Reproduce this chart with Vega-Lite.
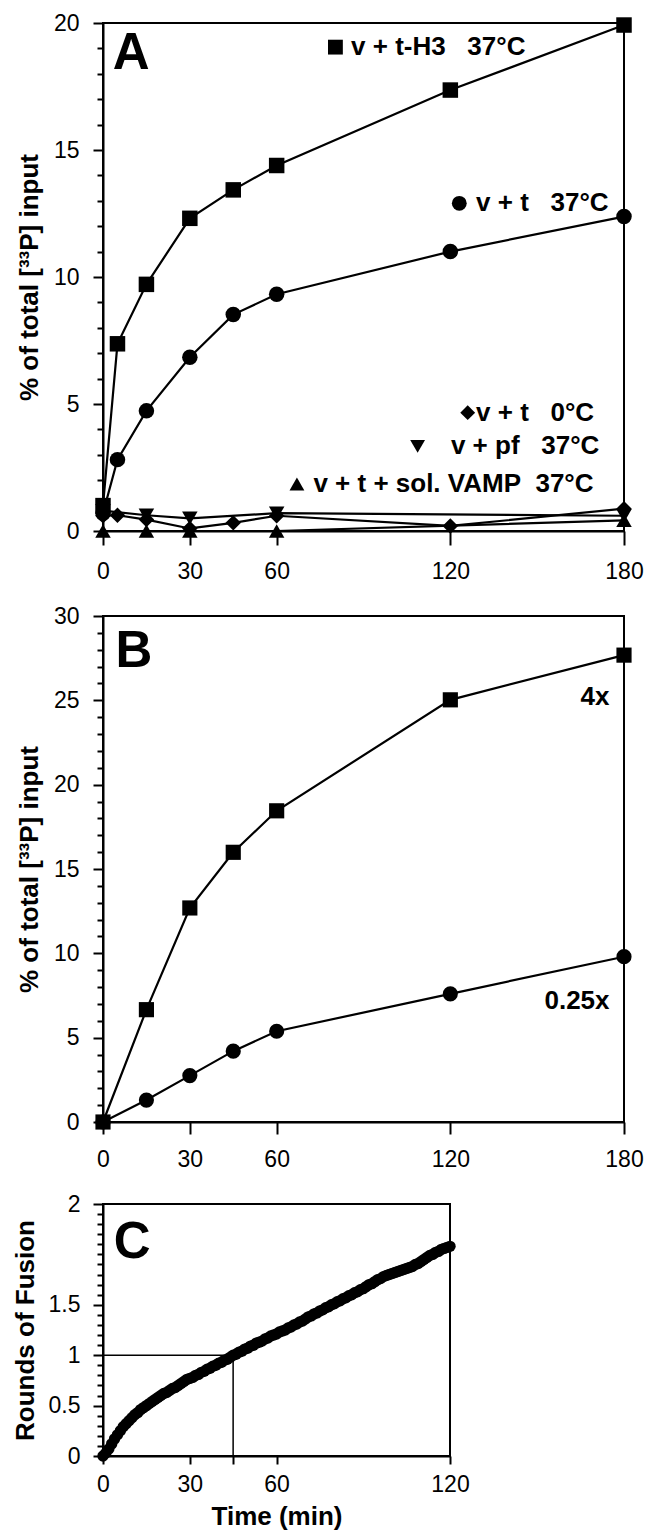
{
  "$schema": "https://vega.github.io/schema/vega-lite/v6.json",
  "padding": {"left": 11, "top": 11, "right": 5, "bottom": 0},
  "background": "white",
  "spacing": 20,
  "config": {
    "view": {"stroke": "black", "strokeWidth": 2},
    "axis": {
      "domainColor": "black", "domainWidth": 2, "tickColor": "black", "tickWidth": 2,
      "labelColor": "black", "labelFont": "Liberation Sans", "labelFontSize": 23,
      "titleFont": "Liberation Sans", "titleFontWeight": "bold", "titleFontSize": 26, "titleColor": "black",
      "grid": false, "labelOverlap": false, "labelFlush": false
    },
    "text": {"font": "Liberation Sans", "color": "black"}
  },
  "datasets": {
    "panelA": [
      {"series": "H3", "t": 0, "v": 1.0}, {"series": "H3", "t": 5, "v": 7.37}, {"series": "H3", "t": 15, "v": 9.71}, {"series": "H3", "t": 30, "v": 12.31}, {"series": "H3", "t": 45, "v": 13.43}, {"series": "H3", "t": 60, "v": 14.39}, {"series": "H3", "t": 120, "v": 17.36}, {"series": "H3", "t": 180, "v": 19.92},
      {"series": "vt37", "t": 0, "v": 0.7}, {"series": "vt37", "t": 5, "v": 2.81}, {"series": "vt37", "t": 15, "v": 4.73}, {"series": "vt37", "t": 30, "v": 6.84}, {"series": "vt37", "t": 45, "v": 8.52}, {"series": "vt37", "t": 60, "v": 9.32}, {"series": "vt37", "t": 120, "v": 11.0}, {"series": "vt37", "t": 180, "v": 12.38},
      {"series": "vt0", "t": 0, "v": 0.6}, {"series": "vt0", "t": 5, "v": 0.62}, {"series": "vt0", "t": 15, "v": 0.45}, {"series": "vt0", "t": 30, "v": 0.1}, {"series": "vt0", "t": 45, "v": 0.32}, {"series": "vt0", "t": 60, "v": 0.6}, {"series": "vt0", "t": 120, "v": 0.2}, {"series": "vt0", "t": 180, "v": 0.88},
      {"series": "pf", "t": 0, "v": 0.8}, {"series": "pf", "t": 15, "v": 0.62}, {"series": "pf", "t": 30, "v": 0.5}, {"series": "pf", "t": 60, "v": 0.7}, {"series": "pf", "t": 180, "v": 0.6},
      {"series": "VAMP", "t": 0, "v": 0}, {"series": "VAMP", "t": 15, "v": 0}, {"series": "VAMP", "t": 30, "v": 0}, {"series": "VAMP", "t": 60, "v": 0}, {"series": "VAMP", "t": 180, "v": 0.42}
    ],
    "keyA": [
      {"series": "H3", "t": 80.3, "v": 19.05, "tx": 85.7, "label": "v\u00a0+\u00a0t-H3\u00a0\u00a0\u00a037°C"},
      {"series": "vt37", "t": 123.1, "v": 12.9, "tx": 128.9, "label": "v\u00a0+\u00a0t\u00a0\u00a0\u00a037°C"},
      {"series": "vt0", "t": 126, "v": 4.66, "tx": 128.9, "label": "v\u00a0+\u00a0t\u00a0\u00a0\u00a00°C"},
      {"series": "pf", "t": 108.7, "v": 3.33, "tx": 120.2, "label": "v\u00a0+\u00a0pf\u00a0\u00a0\u00a037°C"},
      {"series": "VAMP", "t": 67, "v": 1.85, "tx": 72.7, "label": "v\u00a0+\u00a0t\u00a0+\u00a0sol.\u00a0VAMP\u00a0\u00a037°C"}
    ],
    "letterA": [{"t": 3.35, "v": 18.2, "label": "A"}],
    "panelB": [
      {"series": "4x", "t": 0, "v": 0}, {"series": "4x", "t": 15, "v": 6.66}, {"series": "4x", "t": 30, "v": 12.69}, {"series": "4x", "t": 45, "v": 15.99}, {"series": "4x", "t": 60, "v": 18.45}, {"series": "4x", "t": 120, "v": 25.03}, {"series": "4x", "t": 180, "v": 27.68},
      {"series": "0.25x", "t": 0, "v": 0}, {"series": "0.25x", "t": 15, "v": 1.3}, {"series": "0.25x", "t": 30, "v": 2.75}, {"series": "0.25x", "t": 45, "v": 4.2}, {"series": "0.25x", "t": 60, "v": 5.38}, {"series": "0.25x", "t": 120, "v": 7.6}, {"series": "0.25x", "t": 180, "v": 9.8}
    ],
    "notesB": [{"t": 175, "v": 25.2, "label": "4x"}, {"t": 175, "v": 7.15, "label": "0.25x"}],
    "letterB": [{"t": 4.3, "v": 27.0, "label": "B"}],
    "panelC": [
      {"t": 0, "v": 0}, {"t": 1, "v": 0.03}, {"t": 2, "v": 0.07}, {"t": 3, "v": 0.12}, {"t": 4, "v": 0.17}, {"t": 5, "v": 0.21}, {"t": 6, "v": 0.25}, {"t": 7, "v": 0.29}, {"t": 8, "v": 0.32}, {"t": 9, "v": 0.35}, {"t": 10, "v": 0.38},
      {"t": 11, "v": 0.41}, {"t": 12, "v": 0.43}, {"t": 13, "v": 0.46}, {"t": 14, "v": 0.48}, {"t": 15, "v": 0.5}, {"t": 16, "v": 0.52}, {"t": 17, "v": 0.54}, {"t": 18, "v": 0.56}, {"t": 19, "v": 0.58}, {"t": 20, "v": 0.6},
      {"t": 21, "v": 0.62}, {"t": 22, "v": 0.63}, {"t": 23, "v": 0.65}, {"t": 24, "v": 0.67}, {"t": 25, "v": 0.68}, {"t": 26, "v": 0.7}, {"t": 27, "v": 0.72}, {"t": 28, "v": 0.74}, {"t": 29, "v": 0.76}, {"t": 30, "v": 0.77},
      {"t": 31, "v": 0.78}, {"t": 32, "v": 0.8}, {"t": 33, "v": 0.81}, {"t": 34, "v": 0.83}, {"t": 35, "v": 0.84}, {"t": 36, "v": 0.86}, {"t": 37, "v": 0.87}, {"t": 38, "v": 0.89}, {"t": 39, "v": 0.9}, {"t": 40, "v": 0.92},
      {"t": 41, "v": 0.93}, {"t": 42, "v": 0.95}, {"t": 43, "v": 0.96}, {"t": 44, "v": 0.98}, {"t": 45, "v": 1.0}, {"t": 46, "v": 1.01}, {"t": 47, "v": 1.03}, {"t": 48, "v": 1.04}, {"t": 49, "v": 1.06}, {"t": 50, "v": 1.07},
      {"t": 51, "v": 1.09}, {"t": 52, "v": 1.1}, {"t": 53, "v": 1.12}, {"t": 54, "v": 1.13}, {"t": 55, "v": 1.14}, {"t": 56, "v": 1.16}, {"t": 57, "v": 1.17}, {"t": 58, "v": 1.19}, {"t": 59, "v": 1.2}, {"t": 60, "v": 1.21},
      {"t": 61, "v": 1.23}, {"t": 62, "v": 1.24}, {"t": 63, "v": 1.25}, {"t": 64, "v": 1.27}, {"t": 65, "v": 1.28}, {"t": 66, "v": 1.3}, {"t": 67, "v": 1.31}, {"t": 68, "v": 1.33}, {"t": 69, "v": 1.34}, {"t": 70, "v": 1.36},
      {"t": 71, "v": 1.38}, {"t": 72, "v": 1.39}, {"t": 73, "v": 1.41}, {"t": 74, "v": 1.42}, {"t": 75, "v": 1.44}, {"t": 76, "v": 1.45}, {"t": 77, "v": 1.47}, {"t": 78, "v": 1.48}, {"t": 79, "v": 1.5}, {"t": 80, "v": 1.51},
      {"t": 81, "v": 1.53}, {"t": 82, "v": 1.54}, {"t": 83, "v": 1.56}, {"t": 84, "v": 1.57}, {"t": 85, "v": 1.59}, {"t": 86, "v": 1.6}, {"t": 87, "v": 1.62}, {"t": 88, "v": 1.63}, {"t": 89, "v": 1.65}, {"t": 90, "v": 1.66},
      {"t": 91, "v": 1.68}, {"t": 92, "v": 1.7}, {"t": 93, "v": 1.71}, {"t": 94, "v": 1.73}, {"t": 95, "v": 1.75}, {"t": 96, "v": 1.76}, {"t": 97, "v": 1.78}, {"t": 98, "v": 1.79}, {"t": 99, "v": 1.8}, {"t": 100, "v": 1.81},
      {"t": 101, "v": 1.82}, {"t": 102, "v": 1.83}, {"t": 103, "v": 1.84}, {"t": 104, "v": 1.85}, {"t": 105, "v": 1.86}, {"t": 106, "v": 1.87}, {"t": 107, "v": 1.88}, {"t": 108, "v": 1.9}, {"t": 109, "v": 1.91}, {"t": 110, "v": 1.93},
      {"t": 111, "v": 1.95}, {"t": 112, "v": 1.97}, {"t": 113, "v": 1.99}, {"t": 114, "v": 2.0}, {"t": 115, "v": 2.02}, {"t": 116, "v": 2.03}, {"t": 117, "v": 2.05}, {"t": 118, "v": 2.06}, {"t": 119, "v": 2.07}, {"t": 120, "v": 2.08}
    ],
    "refC": [{"t": 0, "t2": 45, "v": 1, "v2": 1}, {"t": 45, "t2": 45, "v": 0, "v2": 1}],
    "letterC": [{"t": 3.7, "v": 1.96, "label": "C"}]
  },
  "vconcat": [
    {
      "width": 521, "height": 508,
      "encoding": {
        "x": {"field": "t", "type": "quantitative", "scale": {"domain": [0, 180], "nice": false, "zero": false},
              "axis": {"values": [0, 30, 60, 120, 180], "title": null, "tickSize": 14, "labelPadding": 15}},
        "y": {"field": "v", "type": "quantitative", "scale": {"domain": [0, 20], "nice": false},
              "axis": {"values": [0,1,2,3,4,5,6,7,8,9,10,11,12,13,14,15,16,17,18,19,20],
                       "tickSize": {"condition": {"test": "datum.value % 5 === 0", "value": 10}, "value": 6},
                       "labelExpr": "datum.value % 5 === 0 ? datum.label : ''",
                       "labelPadding": 14, "title": "% of total [³³P] input", "titlePadding": 11}}
      },
      "layer": [
        {
          "data": {"name": "panelA"},
          "mark": {"type": "line", "color": "black", "strokeWidth": 2.2},
          "encoding": {"detail": {"field": "series"}}
        },
        {
          "data": {"name": "panelA"},
          "mark": {"type": "point", "filled": true, "color": "black", "opacity": 1, "size": 240},
          "encoding": {
            "shape": {"field": "series", "type": "nominal", "scale": {"domain": ["H3", "vt37", "vt0", "pf", "VAMP"], "range": ["square", "circle", "diamond", "triangle-down", "triangle-up"]}, "legend": null}
          }
        },
        {
          "data": {"name": "keyA"},
          "mark": {"type": "point", "filled": true, "color": "black", "opacity": 1, "size": 220},
          "encoding": {
            "shape": {"field": "series", "type": "nominal", "scale": {"domain": ["H3", "vt37", "vt0", "pf", "VAMP"], "range": ["square", "circle", "diamond", "triangle-down", "triangle-up"]}, "legend": null}
          }
        },
        {
          "data": {"name": "keyA"},
          "mark": {"type": "text", "align": "left", "baseline": "middle", "fontSize": 26, "fontWeight": "bold"},
          "encoding": {
            "x": {"field": "tx", "type": "quantitative", "scale": {"domain": [0, 180], "nice": false, "zero": false}, "axis": {"values": [0, 30, 60, 120, 180], "title": null, "tickSize": 14, "labelPadding": 15}},
            "text": {"field": "label"}
          }
        },
        {
          "data": {"name": "letterA"},
          "mark": {"type": "text", "align": "left", "baseline": "alphabetic", "fontSize": 51, "fontWeight": "bold"},
          "encoding": {"text": {"field": "label"}}
        }
      ]
    },
    {
      "width": 521, "height": 506,
      "encoding": {
        "x": {"field": "t", "type": "quantitative", "scale": {"domain": [0, 180], "nice": false, "zero": false},
              "axis": {"values": [0, 30, 60, 120, 180], "title": null, "tickSize": 12, "labelPadding": 14}},
        "y": {"field": "v", "type": "quantitative", "scale": {"domain": [0, 30], "nice": false},
              "axis": {"values": [0,1,2,3,4,5,6,7,8,9,10,11,12,13,14,15,16,17,18,19,20,21,22,23,24,25,26,27,28,29,30],
                       "tickSize": {"condition": {"test": "datum.value % 5 === 0", "value": 10}, "value": 6},
                       "labelExpr": "datum.value % 5 === 0 ? datum.label : ''",
                       "labelPadding": 14, "title": "% of total [³³P] input", "titlePadding": 11}}
      },
      "layer": [
        {
          "data": {"name": "panelB"},
          "mark": {"type": "line", "color": "black", "strokeWidth": 2.2},
          "encoding": {"detail": {"field": "series"}}
        },
        {
          "data": {"name": "panelB"},
          "mark": {"type": "point", "filled": true, "color": "black", "opacity": 1, "size": 230},
          "encoding": {
            "shape": {"field": "series", "type": "nominal", "scale": {"domain": ["4x", "0.25x"], "range": ["square", "circle"]}, "legend": null}
          }
        },
        {
          "data": {"name": "notesB"},
          "mark": {"type": "text", "align": "right", "baseline": "middle", "fontSize": 26, "fontWeight": "bold"},
          "encoding": {"text": {"field": "label"}}
        },
        {
          "data": {"name": "letterB"},
          "mark": {"type": "text", "align": "left", "baseline": "alphabetic", "fontSize": 51, "fontWeight": "bold"},
          "encoding": {"text": {"field": "label"}}
        }
      ]
    },
    {
      "width": 347, "height": 252,
      "encoding": {
        "x": {"field": "t", "type": "quantitative", "scale": {"domain": [0, 120], "nice": false, "zero": false},
              "axis": {"values": [0, 30, 45, 60, 120], "labelExpr": "datum.value == 45 ? '' : datum.label", "title": "Time (min)", "tickSize": 8, "labelPadding": 9, "titlePadding": 7}},
        "y": {"field": "v", "type": "quantitative", "scale": {"domain": [0, 2.5], "nice": false},
              "axis": {"values": [0,0.1,0.2,0.3,0.4,0.5,0.6,0.7,0.8,0.9,1,1.1,1.2,1.3,1.4,1.5,1.6,1.7,1.8,1.9,2,2.1,2.2,2.3,2.4,2.5],
                       "format": "~g",
                       "tickSize": {"condition": {"test": "abs(datum.value*2 - round(datum.value*2)) < 0.001 && abs(datum.value - 2) > 0.01", "value": 10}, "value": 6},
                       "labelExpr": "datum.value > 2.45 ? '2' : (datum.value > 1.9 ? '' : (abs(datum.value*2 - round(datum.value*2)) < 0.001 ? datum.label : ''))",
                       "labelPadding": 13, "title": "Rounds of Fusion", "titlePadding": 10}}
      },
      "layer": [
        {
          "data": {"name": "refC"},
          "mark": {"type": "rule", "color": "black", "strokeWidth": 1.5},
          "encoding": {"x2": {"field": "t2"}, "y2": {"field": "v2"}}
        },
        {
          "data": {"name": "panelC"},
          "mark": {"type": "point", "filled": true, "color": "black", "opacity": 1, "shape": "circle", "size": 130}
        },
        {
          "data": {"name": "letterC"},
          "mark": {"type": "text", "align": "left", "baseline": "alphabetic", "fontSize": 51, "fontWeight": "bold"},
          "encoding": {"text": {"field": "label"}}
        }
      ]
    }
  ]
}
